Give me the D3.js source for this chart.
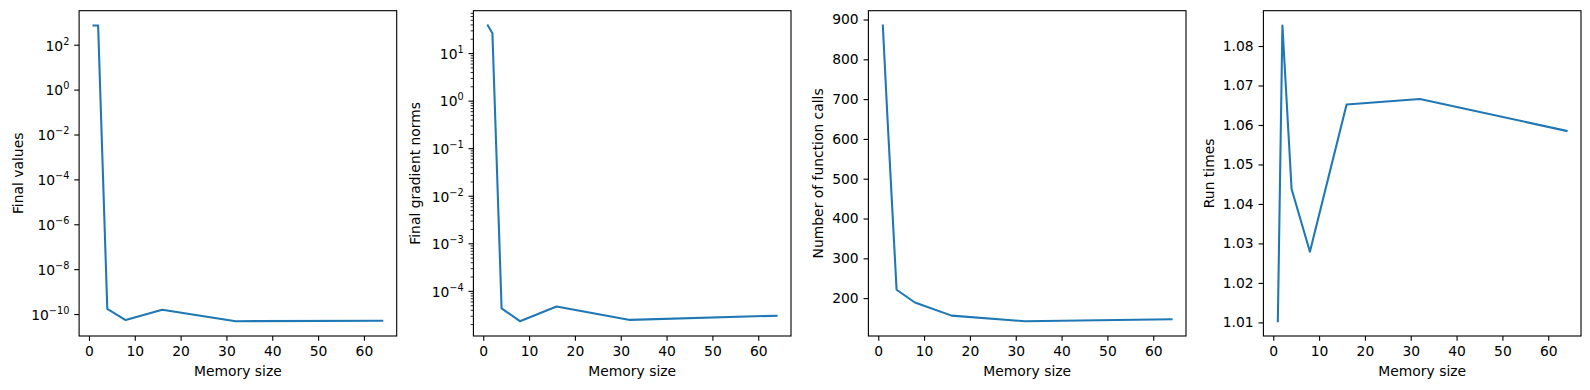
<!DOCTYPE html>
<html>
<head>
<meta charset="utf-8">
<script src="https://cdn.jsdelivr.net/npm/d3@7"></script>
<style>
  body { margin: 0; background: #fff; }
  text { font-family: "DejaVu Sans", sans-serif; fill: #000; }
</style>
</head>
<body>
<div id="root"></div>
<script>
// values
const memorySizes = [1, 2, 4, 8, 16, 32, 64];
const finalValues = [720, 715, 1.7e-10, 5.4e-11, 1.55e-10, 4.8e-11, 5.0e-11];
const gradientNorms = [38, 26, 4.3e-5, 2.3e-5, 4.7e-5, 2.45e-5, 3.0e-5];
const functionCalls = [885, 655, 221, 189, 156, 142, 147];
const runTimes = [1.0103, 1.0852, 1.0438, 1.0279, 1.0652, 1.0666, 1.0585];

const xTicks = [0, 10, 20, 30, 40, 50, 60];
const valueTicks = [1e-10, 1e-8, 1e-6, 1e-4, 1e-2, 1e0, 1e2];
const gradientTicks = [1e-4, 1e-3, 1e-2, 1e-1, 1e0, 1e1];
const callTicks = [200, 300, 400, 500, 600, 700, 800, 900];
const timeTicks = [1.01, 1.02, 1.03, 1.04, 1.05, 1.06, 1.07, 1.08];

const yLabels = ['Final values', 'Final gradient norms', 'Number of function calls', 'Run times'];
const xLabel = 'Memory size';

const width = 1590;
const height = 390;
const fontSize = 13.89;
const plotTop = 10.7;
const plotBottom = 336;
const plotW = 317.6;
const tickLen = 4.86;

// panel layout: left edge of each axes box and x of its rotated y label baseline
const panels = [
    {values: finalValues, ticks: valueTicks, log: true, minor: false, left: 79.1, labelX: 22.7},
    {values: gradientNorms, ticks: gradientTicks, log: true, minor: true, left: 473.4, labelX: 420.2},
    {values: functionCalls, ticks: callTicks, log: false, left: 868.4, labelX: 823.3},
    {values: runTimes, ticks: timeTicks, log: false, left: 1263.4, labelX: 1213.7}
];

const svg = d3.select('#root')
    .append('svg')
    .attr('width', width)
    .attr('height', height);

const pad = (lo, hi) => [lo - 0.05 * (hi - lo), hi + 0.05 * (hi - lo)];

const supFmt = e => (e < 0 ? '\u2212' + (-e) : String(e));

panels.forEach((p, i) => {
    const g = svg.append('g');

    const xr = pad(d3.min(memorySizes), d3.max(memorySizes));
    const x = d3.scaleLinear().domain(xr).range([p.left, p.left + plotW]);

    let y;
    const [lo, hi] = d3.extent(p.values);
    if (p.log) {
        const [a, b] = pad(Math.log10(lo), Math.log10(hi));
        y = d3.scaleLog().domain([10 ** a, 10 ** b]).range([plotBottom, plotTop]);
    } else {
        y = d3.scaleLinear().domain(pad(lo, hi)).range([plotBottom, plotTop]);
    }

    // x axis
    const xAxis = g.append('g')
        .attr('transform', `translate(0,${plotBottom})`)
        .call(d3.axisBottom(x).tickValues(xTicks).tickSize(tickLen).tickPadding(tickLen)
            .tickFormat(d3.format('d')));
    xAxis.select('.domain').remove();

    // minor ticks on log axis
    if (p.minor) {
        const [d0, d1] = y.domain();
        const minors = [];
        for (let e = Math.floor(Math.log10(d0)); e <= Math.ceil(Math.log10(d1)); e++) {
            for (let k = 2; k <= 9; k++) {
                const v = k * 10 ** e;
                if (v >= d0 && v <= d1) minors.push(v);
            }
        }
        const minorAxis = g.append('g')
            .attr('transform', `translate(${p.left},0)`)
            .call(d3.axisLeft(y).tickValues(minors).tickSize(2.78).tickFormat(''));
        minorAxis.select('.domain').remove();
        minorAxis.selectAll('line').attr('stroke-width', 0.83);
    }

    // y axis
    const yAxis = g.append('g')
        .attr('transform', `translate(${p.left},0)`)
        .call(d3.axisLeft(y).tickValues(p.ticks).tickSize(tickLen).tickPadding(tickLen)
            .tickFormat(p.log ? () => '' : d3.format(p.ticks[0] < 2 ? '.2f' : 'd')));
    yAxis.select('.domain').remove();

    if (p.log) {
        yAxis.selectAll('.tick text').each(function (d) {
            const t = d3.select(this).attr('dy', '0.38em');
            t.append('tspan').text('10');
            t.append('tspan')
                .attr('dy', -6)
                .attr('font-size', fontSize * 0.7)
                .text(supFmt(Math.round(Math.log10(d))));
        });
    }

    [xAxis, yAxis].forEach(ax => {
        ax.attr('font-size', fontSize).attr('font-family', '"DejaVu Sans", sans-serif');
        ax.selectAll('line').attr('stroke-width', 1.11);
    });

    // data line
    const line = d3.line()
        .x((d, j) => x(memorySizes[j]))
        .y(d => y(d));

    g.append('path')
        .datum(p.values)
        .attr('d', line)
        .attr('fill', 'none')
        .attr('stroke', '#1f77b4')
        .attr('stroke-width', 2.08)
        .attr('stroke-linejoin', 'round')
        .attr('stroke-linecap', 'square');

    // axes frame
    g.append('rect')
        .attr('x', p.left)
        .attr('y', plotTop)
        .attr('width', plotW)
        .attr('height', plotBottom - plotTop)
        .attr('fill', 'none')
        .attr('stroke', '#000')
        .attr('stroke-width', 1.11);

    // labels
    g.append('text')
        .attr('x', p.left + plotW / 2)
        .attr('y', 375.8)
        .attr('text-anchor', 'middle')
        .attr('font-size', fontSize)
        .text(xLabel);

    g.append('text')
        .attr('transform', `translate(${p.labelX},${(plotTop + plotBottom) / 2}) rotate(-90)`)
        .attr('text-anchor', 'middle')
        .attr('font-size', fontSize)
        .text(yLabels[i]);
});
</script>
</body>
</html>
